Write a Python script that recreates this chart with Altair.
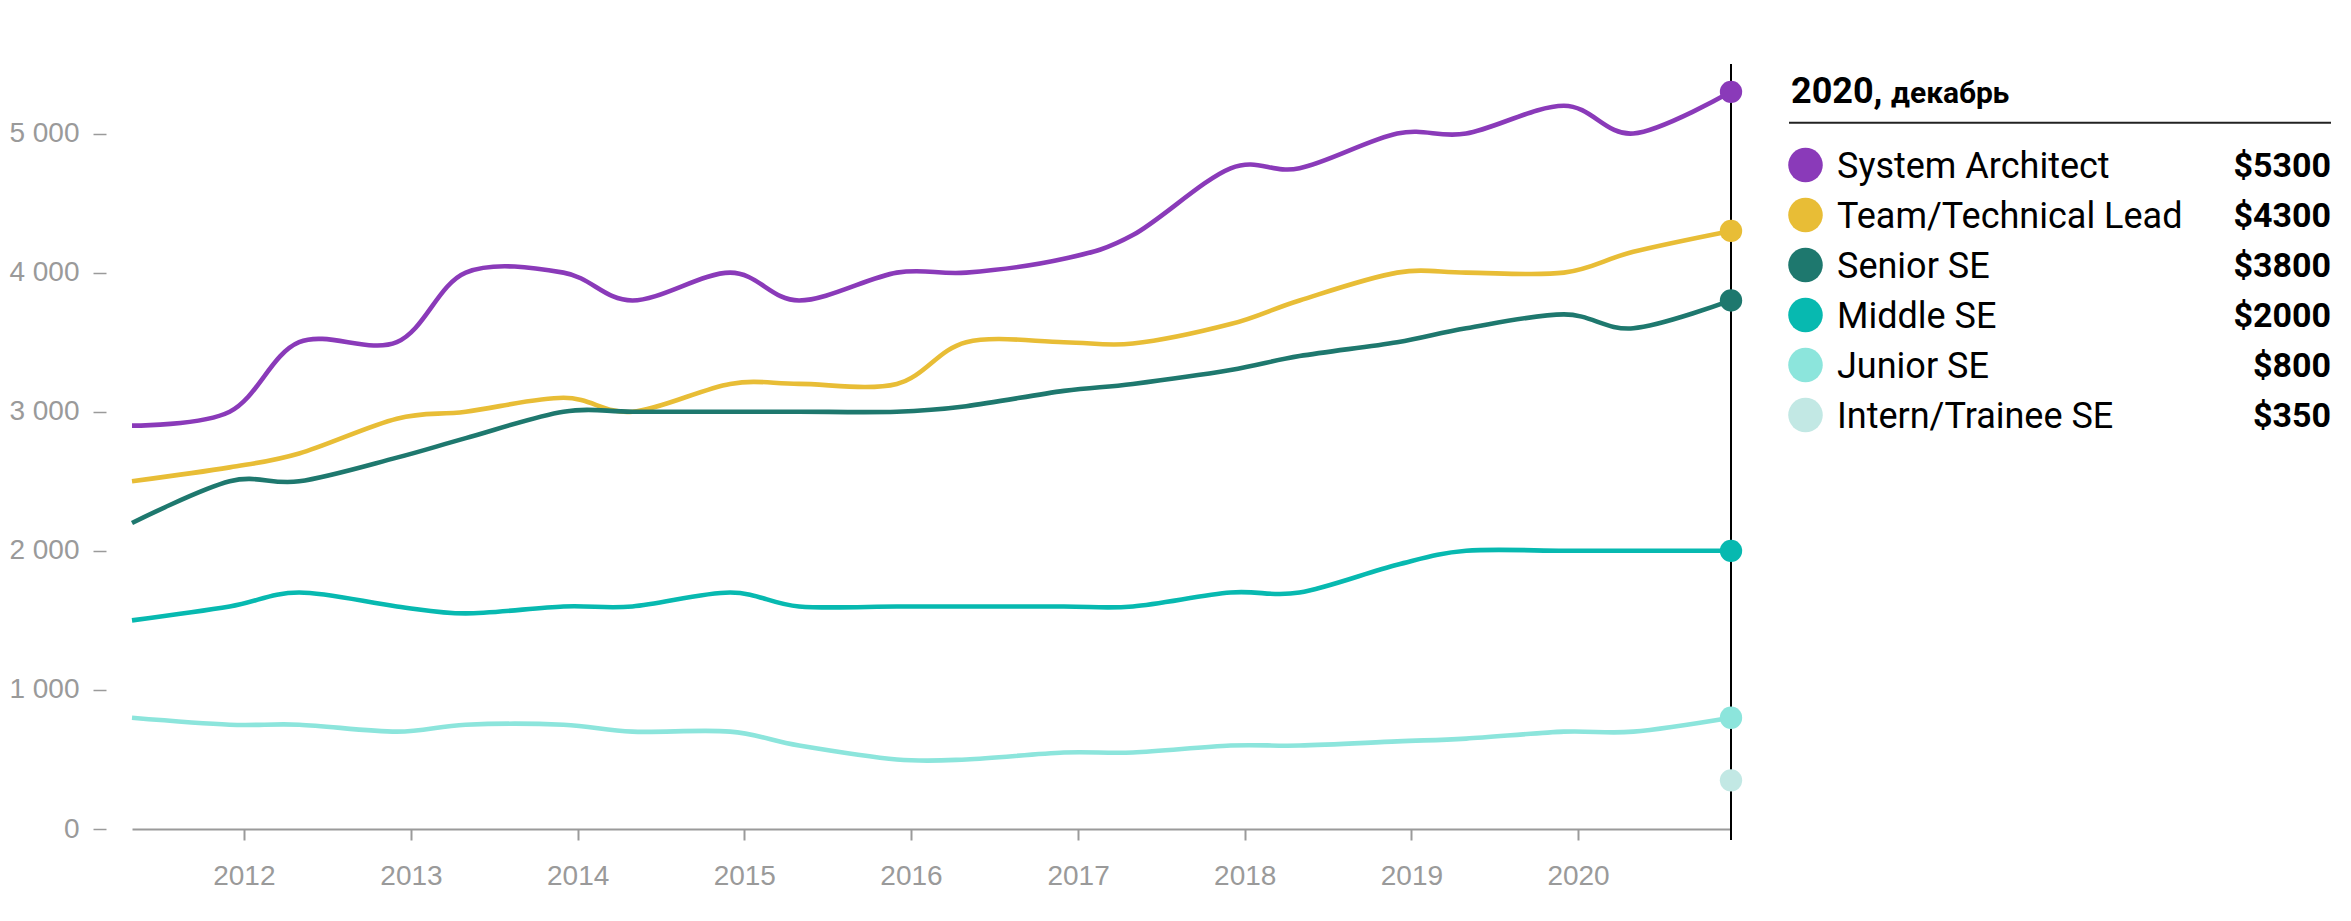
import altair as alt
import pandas as pd

# ---------------- data ----------------
dates = ["2011-05-01", "2011-12-01", "2012-05-01", "2012-12-01", "2013-05-01",
         "2013-12-01", "2014-05-01", "2014-12-01", "2015-05-01", "2015-12-01",
         "2016-05-01", "2016-12-01", "2017-05-01", "2017-12-01", "2018-05-01",
         "2018-12-01", "2019-05-01", "2019-12-01", "2020-05-01", "2020-12-01"]

roles = ["System Architect", "Team/Technical Lead", "Senior SE",
         "Middle SE", "Junior SE", "Intern/Trainee SE"]
colors = ["#8a3ab9", "#e8bd36", "#1e786e", "#07b9b0", "#8ce5dc", "#c2e8e4"]

system_architect = [2900, 3000, 3500, 3500, 4000, 4000, 3800, 4000, 3800, 4000,
                    4000, 4100, 4270, 4750, 4750, 5000, 5000, 5200, 5000, 5300]
team_lead = [2500, 2600, 2700, 2950, 3000, 3100, 3000, 3200, 3200, 3200,
             3500, 3500, 3490, 3630, 3800, 4000, 4000, 4000, 4150, 4300]
senior = [2200, 2500, 2500, 2670, 2810, 3000, 3000, 3000, 3000, 3000,
          3040, 3150, 3200, 3300, 3400, 3500, 3600, 3700, 3600, 3800]
middle = [1500, 1600, 1700, 1600, 1550, 1600, 1600, 1700, 1600, 1600,
          1600, 1600, 1600, 1700, 1700, 1900, 2000, 2000, 2000, 2000]
junior = [800, 750, 750, 700, 750, 750, 700, 700, 600, 500,
          500, 550, 550, 600, 600, 630, 650, 700, 700, 800]
intern_dates = ["2020-12-01"]
intern = [350]

y_ticks = [0, 1000, 2000, 3000, 4000, 5000]
x_years = list(range(2012, 2021))
title_year = "2020,"
title_month = "декабрь"

# ---------------- tables ----------------
series = {
    "System Architect": (dates, system_architect),
    "Team/Technical Lead": (dates, team_lead),
    "Senior SE": (dates, senior),
    "Middle SE": (dates, middle),
    "Junior SE": (dates, junior),
    "Intern/Trainee SE": (intern_dates, intern),
}
rows = []
for role, (ds, vs) in series.items():
    for d, v in zip(ds, vs):
        rows.append({"role": role, "date": d, "value": v})
df = pd.DataFrame(rows)
df_end = pd.DataFrame([{"role": r, "date": series[r][0][-1], "value": series[r][1][-1]}
                       for r in roles])
df_rule = pd.DataFrame({"date": [dates[-1]]})

GRAY = "#9a9a9a"
color_scale = alt.Scale(domain=roles, range=colors)

x_enc = alt.X(
    "date:T",
    scale=alt.Scale(type="utc",
                    domain=[alt.DateTime(year=2011, month=5, date=1, utc=True),
                            alt.DateTime(year=2020, month=12, date=1, utc=True)]),
    axis=alt.Axis(values=[alt.DateTime(year=y, month=1, date=1, utc=True) for y in x_years],
                  format="%Y", formatType="utc", title=None, grid=False,
                  domainColor=GRAY, domainWidth=2, tickColor=GRAY, tickWidth=2,
                  tickSize=11, labelColor=GRAY, labelFontSize=28,
                  labelFont="Liberation Sans", labelPadding=22),
)
y_enc = alt.Y(
    "value:Q",
    scale=alt.Scale(domain=[0, 5500], nice=False),
    axis=alt.Axis(values=y_ticks, title=None, grid=False, domain=False,
                  labelExpr="replace(format(datum.value, ','), ',', ' ')",
                  tickColor=GRAY, tickWidth=1.5, tickSize=13, offset=26,
                  labelPadding=14, labelColor=GRAY, labelFontSize=28,
                  labelFont="Liberation Sans"),
)

rule = alt.Chart(df_rule).mark_rule(color="black", strokeWidth=2).encode(
    x=x_enc, y=alt.value(0), y2=alt.value(776))

lines = alt.Chart(df[df.role != "Intern/Trainee SE"]).mark_line(
    interpolate="cardinal", strokeWidth=4.6).encode(
    x=x_enc, y=y_enc,
    color=alt.Color("role:N", scale=color_scale, legend=None))

dots = alt.Chart(df_end).mark_circle(size=500, opacity=1).encode(
    x=x_enc, y=y_enc,
    color=alt.Color("role:N", scale=color_scale, legend=None))

main = alt.layer(rule, lines, dots).properties(width=1599, height=765)

# ---------------- legend panel ----------------
LW = 542
leg_df = df_end.copy()
leg_y = alt.Y("role:N", sort=roles,
              scale=alt.Scale(type="point", range=[101, 351], padding=0), axis=None)
leg_base = alt.Chart(leg_df).encode(y=leg_y)

leg_circles = leg_base.mark_circle(size=1195, opacity=1).encode(
    x=alt.value(16.5), color=alt.Color("role:N", scale=color_scale, legend=None))
leg_labels = leg_base.mark_text(align="left", baseline="middle", fontSize=36,
                                font="Roboto", color="#000", dy=2).encode(
    x=alt.value(48), text="role:N")
leg_values = leg_base.transform_calculate(label="'$' + datum.value").mark_text(
    align="right", baseline="middle", fontSize=34, font="Roboto",
    fontWeight="bold", color="#000", dy=2).encode(
    x=alt.value(LW), text="label:N")

t_year = alt.Chart(pd.DataFrame({"t": [title_year]})).mark_text(
    align="left", baseline="alphabetic", fontSize=36, font="Roboto",
    fontWeight="bold", color="#000").encode(
    x=alt.value(2), y=alt.value(38.7), text="t:N")
t_month = alt.Chart(pd.DataFrame({"t": [title_month]})).mark_text(
    align="left", baseline="alphabetic", fontSize=30, font="Roboto",
    fontWeight="bold", color="#000").encode(
    x=alt.value(102), y=alt.value(38.7), text="t:N")
t_line = alt.Chart(pd.DataFrame({"t": [title_year]})).mark_rule(
    color="#222", strokeWidth=2).encode(
    x=alt.value(0), x2=alt.value(LW), y=alt.value(58.7))

legend = alt.layer(t_line, t_year, t_month, leg_circles, leg_labels, leg_values).properties(
    width=LW, height=765)

chart = alt.hconcat(main, legend, spacing=58, bounds="flush").properties(
    padding={"left": 8, "top": 63, "right": 10, "bottom": 5},
    background="white",
).configure_view(stroke=None)

chart.save("out.html", embed_options={"renderer": "svg", "actions": False})
